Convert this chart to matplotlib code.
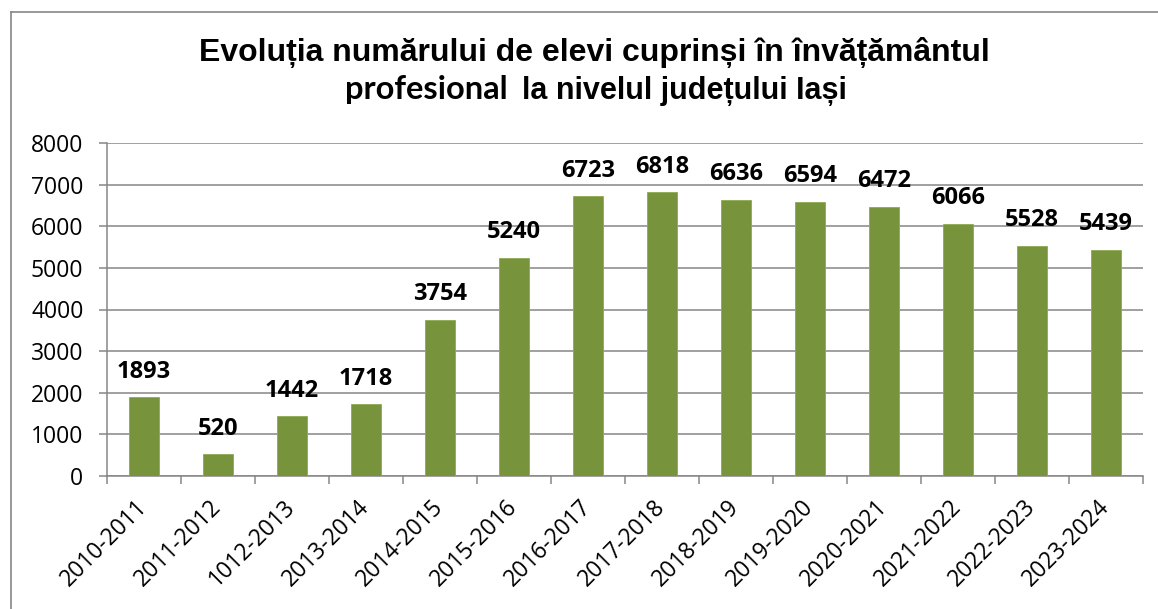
import matplotlib
matplotlib.use("Agg")
import matplotlib.pyplot as plt
from matplotlib.lines import Line2D
import numpy as np

# Data
school_years = ["2010-2011", "2011-2012", "1012-2013", "2013-2014", "2014-2015",
                "2015-2016", "2016-2017", "2017-2018", "2018-2019", "2019-2020",
                "2020-2021", "2021-2022", "2022-2023", "2023-2024"]
students = [1893, 520, 1442, 1718, 3754, 5240, 6723, 6818, 6636, 6594,
            6472, 6066, 5528, 5439]
y_ticks = [0, 1000, 2000, 3000, 4000, 5000, 6000, 7000, 8000]

title_line1 = "Evoluția numărului de elevi cuprinși în învățământul"
title_line2a = "profesional"
title_line2b = "la nivelul județului Iași"

BAR = "#77933C"
GRID = "#868686"
W, H = 1158, 609

fig = plt.figure(figsize=(W / 100, H / 100), dpi=100)
ax = fig.add_axes([107 / W, 1 - 476 / H, (1143 - 107) / W, (476 - 143) / H])

x = np.arange(len(school_years))
bars = ax.bar(x, students, width=0.40, color=BAR, edgecolor="#8DAA52",
              linewidth=0.6, zorder=3)

for xi, v in zip(x, students):
    ax.annotate(str(v), (xi, v), xytext=(0, 14), textcoords="offset points",
                ha="center", va="baseline", fontsize=17, fontweight="bold",
                family="Open Sans", color="black", zorder=4)

ax.set_xlim(-0.5, len(school_years) - 0.5)
ax.set_ylim(0, 8000)
ax.set_yticks(y_ticks)
ax.set_yticklabels([str(t) for t in y_ticks], family="Open Sans", fontsize=16.5)
ax.yaxis.grid(True, color=GRID, linewidth=1.1, zorder=0)
ax.set_axisbelow(True)

ax.set_xticks(x)
ax.set_xticklabels(school_years, rotation=45, ha="right", va="center",
                   rotation_mode="anchor", family="Open Sans", fontsize=16.5)
ax.set_xticks(np.arange(-0.5, len(school_years)), minor=True)
ax.tick_params(axis="x", which="major", length=0, pad=20)
ax.tick_params(axis="x", which="minor", length=6, width=1.1, color=GRID)
ax.tick_params(axis="y", length=6, width=1.1, color=GRID, pad=11)

for side in ("top", "right"):
    ax.spines[side].set_visible(False)
for side in ("left", "bottom"):
    ax.spines[side].set_color(GRID)
    ax.spines[side].set_linewidth(1.1)

# Chart frame (left and top edges)
fig.add_artist(Line2D([11 / W, 11 / W], [0, 1 - 12 / H], transform=fig.transFigure,
                      color=GRID, linewidth=1.2))
fig.add_artist(Line2D([11 / W, 1], [1 - 12 / H, 1 - 12 / H], transform=fig.transFigure,
                      color=GRID, linewidth=1.2))

# Title
fig.text(594 / W, 1 - 61 / H, title_line1, ha="center", va="baseline",
         family="Liberation Sans", fontweight="bold", fontsize=23)
fig.text(508 / W, 1 - 99 / H, title_line2a, ha="right", va="baseline",
         family="Lato", fontweight="bold", fontsize=23.5)
fig.text(522 / W, 1 - 99 / H, title_line2b, ha="left", va="baseline",
         family="Liberation Sans", fontweight="bold", fontsize=22)

fig.savefig("out.png", dpi=100)
